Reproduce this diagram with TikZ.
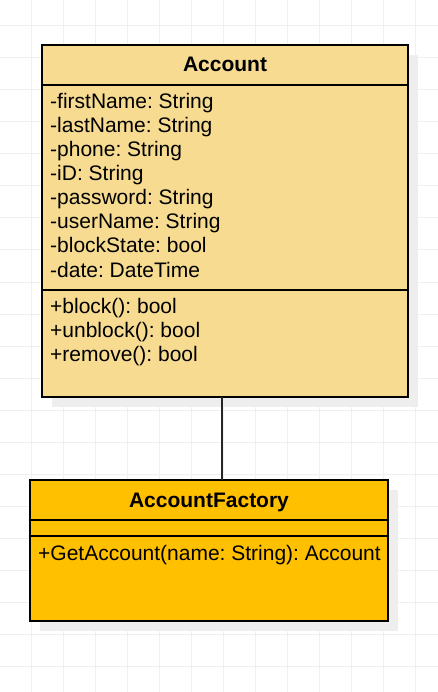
\documentclass[tikz,border=0pt]{standalone}
\usepackage{fontspec}
\setmainfont{Liberation Sans}
\definecolor{accfill}{HTML}{F6DB90}
\definecolor{facfill}{HTML}{FFC000}
\definecolor{gridc}{HTML}{F0F0F0}
\definecolor{shadowc}{HTML}{EEEEEE}
\begin{document}
\frenchspacing
\begin{tikzpicture}[x=1pt,y=-1pt,
  umlbox/.style={draw=black,line width=1.3pt,anchor=north west,inner sep=0pt,outer sep=0pt},
  sepline/.style={draw=black,line width=1.3pt},
  txt/.style={anchor=base west,inner sep=0pt,font=\fontsize{21}{24}\selectfont\frenchspacing},
  title/.style={anchor=base,inner sep=0pt,font=\fontsize{21}{24}\selectfont\bfseries},
  conn/.style={draw=black!85,line width=1.3pt}]
\useasboundingbox (0,0) rectangle (438,692);
\fill[white] (0,0) rectangle (438,692);
% grid
\foreach \i in {0,...,13} {\draw[gridc,line width=1pt] ({-1+32*\i},0) -- ({-1+32*\i},692);}
\foreach \j in {0,...,21} {\draw[gridc,line width=1pt] (0,{26+32*\j}) -- (438,{26+32*\j});}
% shadows
\fill[shadowc] (52,55) rectangle (418,407);
\fill[shadowc] (40,490) rectangle (398,631);
% Account
\node[umlbox,fill=accfill,minimum width=366pt,minimum height=352pt] (acc) at (42,45) {};
\draw[sepline] (42,85) -- (408,85);
\draw[sepline] (42,290) -- (408,290);
\node[title] (acct) at (225,72) {Account};
\node[txt] (a1) at (50,109) {-firstName: String};
\node[txt] (a2) at (50,133) {-lastName: String};
\node[txt] (a3) at (50,157) {-phone: String};
\node[txt] (a4) at (50,181) {-iD: String};
\node[txt] (a5) at (50,205) {-password: String};
\node[txt] (a6) at (50,229) {-userName: String};
\node[txt] (a7) at (50,253) {-blockState: bool};
\node[txt] (a8) at (50,277) {-date: DateTime};
\node[txt] (m1) at (50,313) {+block(): bool};
\node[txt] (m2) at (50,337) {+unblock(): bool};
\node[txt] (m3) at (50,361) {+remove(): bool};
% AccountFactory
\node[umlbox,fill=facfill,minimum width=358pt,minimum height=141pt] (fac) at (30,480) {};
\draw[sepline] (30,520) -- (388,520);
\draw[sepline] (30,536) -- (388,536);
\node[title] (fact) at (209,507) {AccountFactory};
\node[txt] (f1) at (38,560) {+GetAccount(name: String): Account};
% connector
\coordinate (lx) at (222,0);
\draw[conn] (acc.south -| lx) -- (fac.north -| lx);
\end{tikzpicture}
\end{document}
